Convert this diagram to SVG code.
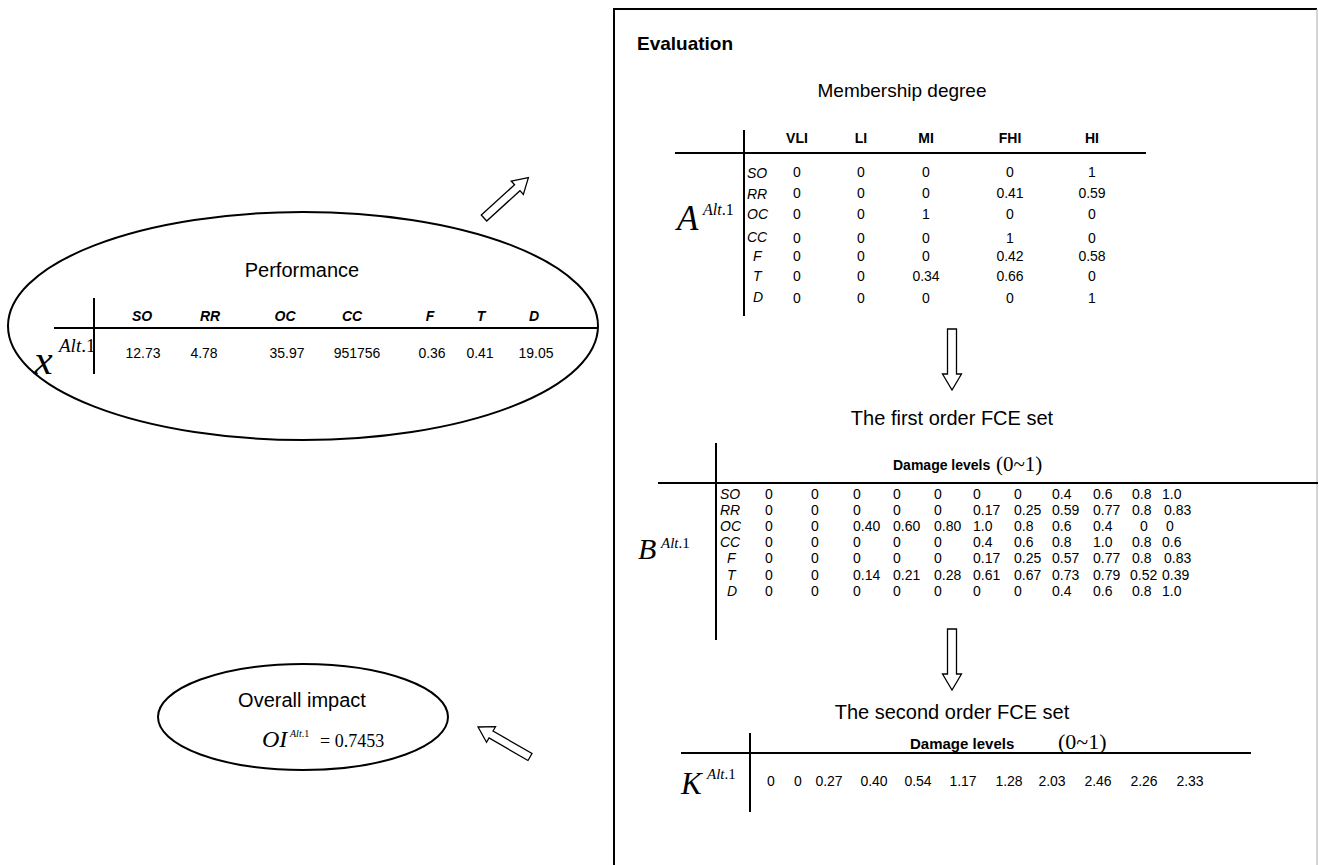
<svg xmlns="http://www.w3.org/2000/svg" width="1319" height="865" viewBox="0 0 1319 865">
<style>
.s{font-family:"Liberation Sans",Arial,sans-serif;fill:#000}
.m{font-family:"Liberation Serif","Times New Roman",serif;fill:#000}
.t{font-size:20px;text-anchor:middle}
.h{font-size:14px;font-weight:bold}
.hi{font-size:14px;font-weight:bold;font-style:italic;text-anchor:middle}
.v{font-size:14px;text-anchor:middle}
.vs{font-size:14px}
.it{font-style:italic}
.ln{stroke:#000;stroke-width:2;fill:none}
.arr{fill:#fff;stroke:#000;stroke-width:1.3}
</style>
<defs>
<path id="ad" d="M0,-4.5 L45,-4.5 L45,-9.5 L61,0 L45,9.5 L45,4.5 L0,4.5 Z"/>
<path id="ag" d="M0,-4 L45,-4 L45,-9 L60,0 L45,9 L45,4 L0,4 Z"/>
</defs>
<rect width="1319" height="865" fill="#fff"/>

<g id="performance">
<ellipse cx="303" cy="326" rx="295" ry="114" class="ln"/>
<text class="s t" x="302" y="277">Performance</text>
<line class="ln" x1="94" y1="298" x2="94" y2="374"/>
<line class="ln" x1="54" y1="328" x2="597" y2="328"/>
<g class="s hi">
<text x="142" y="321">SO</text><text x="210" y="321">RR</text><text x="285" y="321">OC</text><text x="352" y="321">CC</text><text x="430" y="321">F</text><text x="481" y="321">T</text><text x="534" y="321">D</text>
</g>
<g class="s v">
<text x="143" y="358">12.73</text><text x="204" y="358">4.78</text><text x="287" y="358">35.97</text><text x="357" y="358">951756</text><text x="432" y="358">0.36</text><text x="480" y="358">0.41</text><text x="536" y="358">19.05</text>
</g>
<text class="m" x="34" y="374" font-size="42"><tspan class="it">x</tspan><tspan x="59" y="352" font-size="19"><tspan class="it">Alt</tspan>.1</tspan></text>
</g>

<g id="overall">
<ellipse cx="303" cy="717" rx="145" ry="53" class="ln"/>
<text class="s t" x="302" y="707">Overall impact</text>
<text class="m" x="262" y="747" font-size="24"><tspan class="it">OI</tspan><tspan x="290" y="737" font-size="10"><tspan class="it">Alt</tspan>.1</tspan><tspan x="320" y="747" font-size="18">= 0.7453</tspan></text>
</g>

<g id="evaluation">
<path d="M614,865 L614,9 L1317,9" class="ln"/>
<line x1="1317" y1="9" x2="1317" y2="865" stroke="#aaa" stroke-width="1"/>
<text class="s" x="637" y="50" font-size="19" font-weight="bold">Evaluation</text>
</g>

<g id="membership">
<text class="s" x="902" y="97" font-size="19" text-anchor="middle">Membership degree</text>
<line class="ln" x1="744" y1="130" x2="744" y2="316"/>
<line class="ln" x1="675" y1="153" x2="1146" y2="153"/>
<g class="s h" text-anchor="middle">
<text x="797" y="143">VLI</text><text x="861" y="143">LI</text><text x="926" y="143">MI</text><text x="1010" y="143">FHI</text><text x="1092" y="143">HI</text>
</g>
<g class="s vs it">
<text x="747" y="178">SO</text><text x="747" y="199">RR</text><text x="747" y="219">OC</text><text x="747" y="242">CC</text><text x="753" y="261">F</text><text x="753" y="281">T</text><text x="753" y="302">D</text>
</g>
<g class="s v">
<text x="797" y="177">0</text><text x="861" y="177">0</text><text x="926" y="177">0</text><text x="1010" y="177">0</text><text x="1092" y="177">1</text>
<text x="797" y="198">0</text><text x="861" y="198">0</text><text x="926" y="198">0</text><text x="1010" y="198">0.41</text><text x="1092" y="198">0.59</text>
<text x="797" y="219">0</text><text x="861" y="219">0</text><text x="926" y="219">1</text><text x="1010" y="219">0</text><text x="1092" y="219">0</text>
<text x="797" y="243">0</text><text x="861" y="243">0</text><text x="926" y="243">0</text><text x="1010" y="243">1</text><text x="1092" y="243">0</text>
<text x="797" y="261">0</text><text x="861" y="261">0</text><text x="926" y="261">0</text><text x="1010" y="261">0.42</text><text x="1092" y="261">0.58</text>
<text x="797" y="281">0</text><text x="861" y="281">0</text><text x="926" y="281">0.34</text><text x="1010" y="281">0.66</text><text x="1092" y="281">0</text>
<text x="797" y="303">0</text><text x="861" y="303">0</text><text x="926" y="303">0</text><text x="1010" y="303">0</text><text x="1092" y="303">1</text>
</g>
<text class="m" x="677" y="230" font-size="35"><tspan class="it">A</tspan><tspan x="703" y="215" font-size="16"><tspan class="it">Alt</tspan>.1</tspan></text>
</g>

<g id="first-order">
<text class="s t" x="952" y="425">The first order FCE set</text>
<line class="ln" x1="716" y1="443" x2="716" y2="640"/>
<line class="ln" x1="658" y1="483" x2="1318" y2="483"/>
<text class="s h" x="893" y="470">Damage levels</text>
<text class="m" x="996" y="471" font-size="21">(0~1)</text>
<g class="s vs it">
<text x="720" y="499">SO</text><text x="720" y="515">RR</text><text x="720" y="531">OC</text><text x="720" y="547">CC</text><text x="727" y="563">F</text><text x="727" y="580">T</text><text x="727" y="596">D</text>
</g>
<g class="s vs">
<text y="499"><tspan x="765">0</tspan><tspan x="811">0</tspan><tspan x="853">0</tspan><tspan x="893">0</tspan><tspan x="934">0</tspan><tspan x="973">0</tspan><tspan x="1014">0</tspan><tspan x="1052">0.4</tspan><tspan x="1093">0.6</tspan><tspan x="1132">0.8</tspan><tspan x="1162">1.0</tspan></text>
<text y="515"><tspan x="765">0</tspan><tspan x="811">0</tspan><tspan x="853">0</tspan><tspan x="893">0</tspan><tspan x="934">0</tspan><tspan x="973">0.17</tspan><tspan x="1014">0.25</tspan><tspan x="1052">0.59</tspan><tspan x="1093">0.77</tspan><tspan x="1132">0.8</tspan><tspan x="1164">0.83</tspan></text>
<text y="531"><tspan x="765">0</tspan><tspan x="811">0</tspan><tspan x="853">0.40</tspan><tspan x="893">0.60</tspan><tspan x="934">0.80</tspan><tspan x="973">1.0</tspan><tspan x="1014">0.8</tspan><tspan x="1052">0.6</tspan><tspan x="1093">0.4</tspan><tspan x="1140">0</tspan><tspan x="1166">0</tspan></text>
<text y="547"><tspan x="765">0</tspan><tspan x="811">0</tspan><tspan x="853">0</tspan><tspan x="893">0</tspan><tspan x="934">0</tspan><tspan x="973">0.4</tspan><tspan x="1014">0.6</tspan><tspan x="1052">0.8</tspan><tspan x="1093">1.0</tspan><tspan x="1132">0.8</tspan><tspan x="1162">0.6</tspan></text>
<text y="563"><tspan x="765">0</tspan><tspan x="811">0</tspan><tspan x="853">0</tspan><tspan x="893">0</tspan><tspan x="934">0</tspan><tspan x="973">0.17</tspan><tspan x="1014">0.25</tspan><tspan x="1052">0.57</tspan><tspan x="1093">0.77</tspan><tspan x="1132">0.8</tspan><tspan x="1164">0.83</tspan></text>
<text y="580"><tspan x="765">0</tspan><tspan x="811">0</tspan><tspan x="853">0.14</tspan><tspan x="893">0.21</tspan><tspan x="934">0.28</tspan><tspan x="973">0.61</tspan><tspan x="1014">0.67</tspan><tspan x="1052">0.73</tspan><tspan x="1093">0.79</tspan><tspan x="1130">0.52</tspan><tspan x="1162">0.39</tspan></text>
<text y="596"><tspan x="765">0</tspan><tspan x="811">0</tspan><tspan x="853">0</tspan><tspan x="893">0</tspan><tspan x="934">0</tspan><tspan x="973">0</tspan><tspan x="1014">0</tspan><tspan x="1052">0.4</tspan><tspan x="1093">0.6</tspan><tspan x="1132">0.8</tspan><tspan x="1162">1.0</tspan></text>
</g>
<text class="m" x="638" y="559" font-size="30"><tspan class="it">B</tspan><tspan x="661" y="548" font-size="15"><tspan class="it">Alt</tspan>.1</tspan></text>
</g>

<g id="second-order">
<text class="s t" x="952" y="719">The second order FCE set</text>
<line class="ln" x1="750" y1="733" x2="750" y2="812"/>
<line class="ln" x1="681" y1="753" x2="1251" y2="753"/>
<text class="s" x="910" y="749" font-size="15" font-weight="bold">Damage levels</text>
<text class="m" x="1058" y="749" font-size="22">(0~1)</text>
<g class="s v">
<text x="771" y="786">0</text><text x="798" y="786">0</text><text x="829" y="786">0.27</text><text x="874" y="786">0.40</text><text x="918" y="786">0.54</text><text x="963" y="786">1.17</text><text x="1009" y="786">1.28</text><text x="1052" y="786">2.03</text><text x="1098" y="786">2.46</text><text x="1144" y="786">2.26</text><text x="1190" y="786">2.33</text>
</g>
<text class="m" x="681" y="794" font-size="31"><tspan class="it">K</tspan><tspan x="707" y="779" font-size="15"><tspan class="it">Alt</tspan>.1</tspan></text>
</g>

<g id="connectors">
<use href="#ag" class="arr" transform="translate(484,218) rotate(-42.3)"/>
<use href="#ag" class="arr" transform="translate(530,757) rotate(210)"/>
<use href="#ad" class="arr" transform="translate(952,329) rotate(90)"/>
<use href="#ad" class="arr" transform="translate(952,629) rotate(90)"/>
</g>
</svg>
